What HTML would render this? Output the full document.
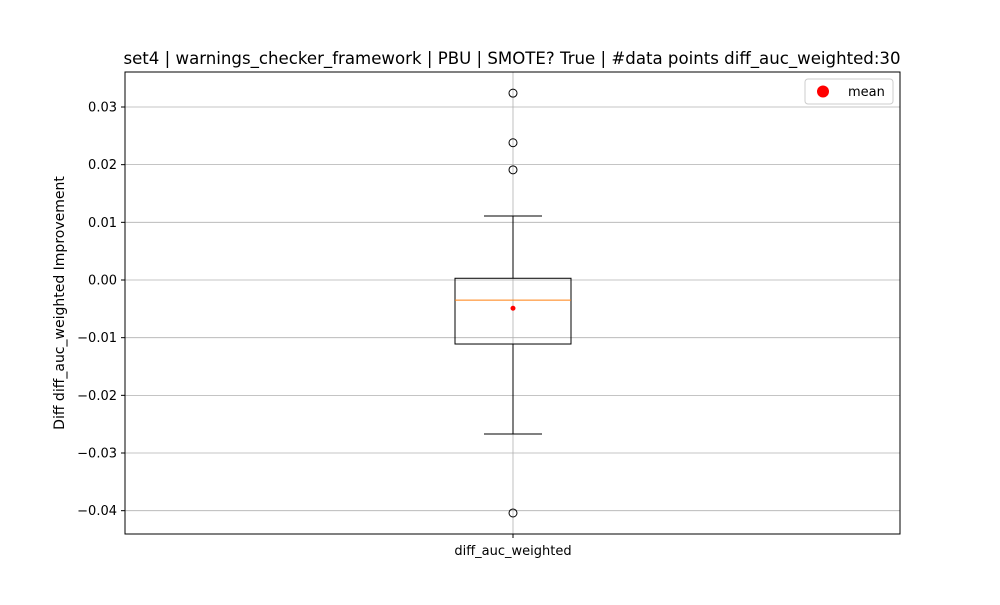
<!DOCTYPE html>
<html><head><meta charset="utf-8"><style>
body{margin:0;background:#fff;font-family:"Liberation Sans","DejaVu Sans",sans-serif;}
svg text{font-family:"DejaVu Sans","Liberation Sans",sans-serif;}
</style></head><body>
<svg id="chart" width="1000" height="600">
<rect width="1000" height="600" fill="#fff"/>
<text x="512" y="64" text-anchor="middle" font-size="16.6">set4 | warnings_checker_framework | PBU | SMOTE? True | #data points diff_auc_weighted:30</text>
<g id="grid"></g><g id="ticks"></g><g id="marks"></g>
<rect x="125" y="72" width="775" height="462" fill="none" stroke="#000" stroke-width="1"/>
<text transform="translate(64,303) rotate(-90)" text-anchor="middle" font-size="14">Diff diff_auc_weighted Improvement</text>
<g>
<rect x="805" y="79" width="88" height="25" rx="3" fill="#fff" stroke="#ccc"/>
<circle cx="823" cy="91.5" r="6" fill="red"/>
<text x="848" y="96" font-size="13">mean</text>
</g>
</svg>
<script>
const yTicks=[0.03,0.02,0.01,0.00,-0.01,-0.02,-0.03,-0.04];
const tickLabels=["0.03","0.02","0.01","0.00","\u22120.01","\u22120.02","\u22120.03","\u22120.04"];
const categories=["diff_auc_weighted"];
const q1=[-0.0111],q3=[0.0003],median=[-0.0035],mean=[-0.0049],whiskLo=[-0.0267],whiskHi=[0.0111];
const outliers=[[0.0324,0.0238,0.0191,-0.0404]];
const NS="http://www.w3.org/2000/svg";
const y=v=>280-v*5767;
const x=i=>513+i*100;
function mk(t,a,p){const e=document.createElementNS(NS,t);for(const k in a)e.setAttribute(k,a[k]);p.appendChild(e);return e;}
const G=document.getElementById('grid'),T=document.getElementById('ticks'),M=document.getElementById('marks');
yTicks.forEach((v,i)=>{
 const l=mk('line',{x1:125,x2:900,y1:y(v),y2:y(v),stroke:'#b0b0b0','stroke-width':0.8},G);
 
 
 mk('line',{x1:121,x2:125,y1:y(v),y2:y(v),stroke:'#000'},T);
 const t=mk('text',{x:117,y:y(v)+4.5,'text-anchor':'end','font-size':13},T);t.textContent=tickLabels[i];
 
 
});
categories.forEach((c,i)=>{
 const cx=x(i);
 mk('line',{x1:cx,x2:cx,y1:72,y2:534,stroke:'#b0b0b0','stroke-width':0.8},G);
 mk('line',{x1:cx,x2:cx,y1:534,y2:538,stroke:'#000'},T);
 const t=mk('text',{x:cx,y:555,'text-anchor':'middle','font-size':13},T);t.textContent=c;
 
 
 const g=mk('g',{},M);
 
 
 mk('line',{x1:cx,x2:cx,y1:y(q3[i]),y2:y(whiskHi[i]),stroke:'#000'},g);
 mk('line',{x1:cx,x2:cx,y1:y(q1[i]),y2:y(whiskLo[i]),stroke:'#000'},g);
 mk('line',{x1:cx-29,x2:cx+29,y1:y(whiskHi[i]),y2:y(whiskHi[i]),stroke:'#000'},g);
 mk('line',{x1:cx-29,x2:cx+29,y1:y(whiskLo[i]),y2:y(whiskLo[i]),stroke:'#000'},g);
 mk('rect',{x:cx-58,y:y(q3[i]),width:116,height:y(q1[i])-y(q3[i]),fill:'none',stroke:'#000'},g);
 mk('line',{x1:cx-58,x2:cx+58,y1:y(median[i]),y2:y(median[i]),stroke:'#ff7f0e'},g);
 mk('circle',{cx:cx,cy:y(mean[i]),r:2.5,fill:'red'},g);
 outliers[i].forEach(v=>{const o=mk('circle',{cx:cx,cy:y(v),r:4,fill:'none',stroke:'#000'},g);
  
  });
});
</script>
</body></html>
